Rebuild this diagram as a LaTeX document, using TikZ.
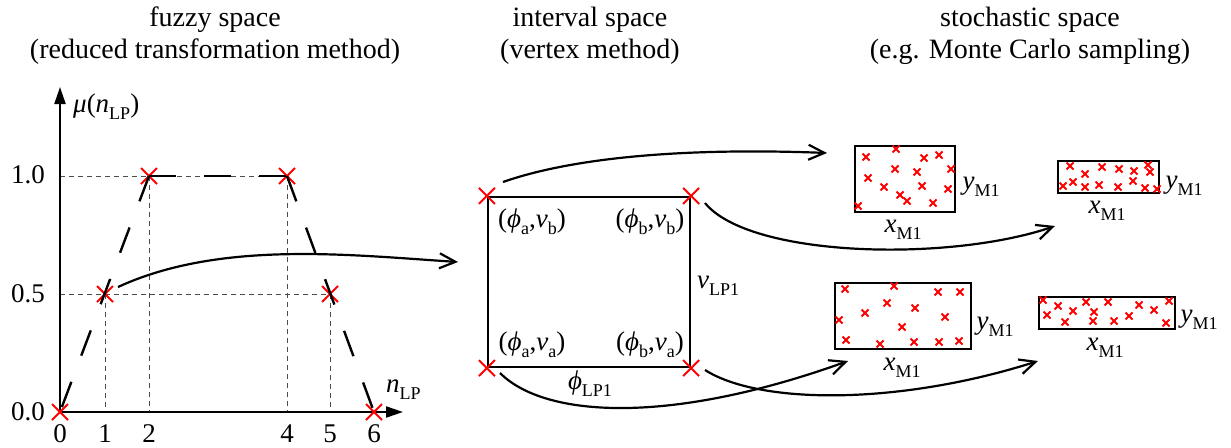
\documentclass[tikz,border=0pt]{standalone}
\usepackage{fontspec}
\setmainfont{Liberation Serif}
\usetikzlibrary{arrows.meta,shapes.misc}
\newcommand\sbs[1]{\raisebox{-0.25em}{\fontsize{18}{18}\selectfont #1}}
\newcommand\iv[1]{\textit{#1}}
\begin{document}
\begin{tikzpicture}[x=1pt,y=-1pt,
 lbl/.style={font=\fontsize{27}{30}\selectfont, inner sep=0},
 ttl/.style={font=\fontsize{28}{32}\selectfont, align=center, inner sep=0},
 axis/.style={line width=2.2pt, -{Triangle[length=17pt,width=11pt]}},
 grid/.style={black!70, line width=0.9pt, dash pattern=on 5pt off 4pt},
 trap/.style={line width=2.4pt, dash pattern=on 27pt off 28pt},
 bigx/.style={cross out, draw=red, line width=2pt, minimum size=14pt, inner sep=0},
 smx/.style={cross out, draw=red, line width=2pt, minimum size=5pt, inner sep=0},
 sbox/.style={draw, line width=2.2pt, inner sep=0},
 conn/.style={line width=2.2pt, -{Straight Barb[length=16pt,width=15pt]}},
]
\useasboundingbox (0,0) rectangle (1231,447);

% titles
\node[ttl] (t1) at (215,36) {fuzzy space\\(reduced transformation method)};
\node[ttl] (t2) at (590,36) {interval space\\(vertex method)};
\node[ttl] (t3) at (1030,36) {stochastic space\\(e.g. Monte Carlo sampling)};

% fuzzy diagram
\coordinate (O) at (60,412);
\coordinate (ytip) at (60,87);
\coordinate (xtip) at (403,412);
\coordinate (y1) at (60,176);
\coordinate (y05) at (60,294);
\coordinate (b1) at (105,412);
\coordinate (b2) at (149,412);
\coordinate (b4) at (287,412);
\coordinate (b5) at (330,412);

\draw[grid] (y1) -- (287,176);
\draw[grid] (y05) -- (330,294);
\draw[grid] (149,176) -- (b2);
\draw[grid] (287,176) -- (b4);
\draw[grid] (105,294) -- (b1);
\draw[grid] (330,294) -- (b5);

\draw[axis] (O) -- (ytip);
\draw[axis] (O) -- (xtip);

\node[bigx] (f0) at (60,412) {};
\node[bigx] (f1) at (105,294) {};
\node[bigx] (f2) at (149,176) {};
\node[bigx] (f4) at (287,176) {};
\node[bigx] (f5) at (330,294) {};
\node[bigx] (f6) at (374,412) {};

\draw[trap] (f2.center) -- (f0.center);
\draw[trap] (f2.center) -- (f4.center);
\draw[trap] (f4.center) -- (f6.center);

\node[lbl] (l10) at (28,175) {1.0};
\node[lbl] (l05) at (28,294) {0.5};
\node[lbl] (l00) at (28,412) {0.0};
\node[lbl] (n0) at (60,434) {0};
\node[lbl] (n1) at (105,434) {1};
\node[lbl] (n2) at (149,434) {2};
\node[lbl] (n4) at (287,434) {4};
\node[lbl] (n5) at (330,434) {5};
\node[lbl] (n6) at (374,434) {6};
\node[lbl, anchor=west] (mu) at (73,107) {\iv{μ}(\iv{n}\sbs{LP})};
\node[lbl, anchor=west] (nlp) at (386,390) {\iv{n}\sbs{LP}};

% interval space
\node[sbox, minimum width=202pt, minimum height=170pt] (ivr) at (589,282) {};
\node[bigx] (ca) at (ivr.north west) {};
\node[bigx] (cb) at (ivr.north east) {};
\node[bigx] (cc) at (ivr.south west) {};
\node[bigx] (cd) at (ivr.south east) {};
\node[lbl] (pab) at (532,222) {(\iv{ϕ}\sbs{a},\iv{v}\sbs{b})};
\node[lbl] (pbb) at (650,222) {(\iv{ϕ}\sbs{b},\iv{v}\sbs{b})};
\node[lbl] (paa) at (532,345) {(\iv{ϕ}\sbs{a},\iv{v}\sbs{a})};
\node[lbl] (pba) at (650,345) {(\iv{ϕ}\sbs{b},\iv{v}\sbs{a})};
\node[lbl, anchor=west] (vlp) at (697,286) {\iv{v}\sbs{LP1}};
\node[lbl] (plp) at (590,384) {\iv{ϕ}\sbs{LP1}};

% stochastic boxes
\node[sbox, minimum width=100pt, minimum height=66pt] (s1) at (905,179) {};
\node[sbox, minimum width=101pt, minimum height=32pt] (s2) at (1108.5,177) {};
\node[sbox, minimum width=136pt, minimum height=66pt] (s3) at (903,316) {};
\node[sbox, minimum width=136pt, minimum height=32pt] (s4) at (1107,313) {};

\node[lbl] (s1y) at (981,187) {\iv{y}\sbs{M1}};
\node[lbl] (s1x) at (903,230) {\iv{x}\sbs{M1}};
\node[lbl] (s2y) at (1184,186) {\iv{y}\sbs{M1}};
\node[lbl] (s2x) at (1107,211) {\iv{x}\sbs{M1}};
\node[lbl] (s3y) at (995,327) {\iv{y}\sbs{M1}};
\node[lbl] (s3x) at (902,368) {\iv{x}\sbs{M1}};
\node[lbl] (s4y) at (1199,320) {\iv{y}\sbs{M1}};
\node[lbl] (s4x) at (1105,348) {\iv{x}\sbs{M1}};

\foreach \p [count=\i] in {(866,157),(896,149),(924,158),(939,155),(868,178),(895,169),(917,172),(951,169),(884,187),(922,186),(948,189),(900,195),(907,201),(933,203),(858,206)}
  \node[smx] (pa\i) at \p {};
\foreach \p [count=\i] in {(1070,166),(1085,174),(1102,167),(1119,169),(1134,171),(1148,165),(1150,172),(1063,186),(1073,182),(1085,187),(1099,185),(1118,187),(1133,181),(1145,188),(1157,189)}
  \node[smx] (pb\i) at \p {};
\foreach \p [count=\i] in {(845,289),(894,286),(938,292),(960,292),(887,303),(915,308),(865,313),(945,317),(839,320),(902,327),(846,340),(880,344),(914,342),(939,342),(959,341)}
  \node[smx] (pc\i) at \p {};
\foreach \p [count=\i] in {(1043,300),(1058,306),(1086,302),(1108,302),(1139,305),(1169,301),(1047,315),(1073,311),(1094,312),(1129,316),(1154,310),(1065,322),(1093,321),(1114,321),(1166,323)}
  \node[smx] (pd\i) at \p {};

% connectors
\coordinate (a0s) at (118,287);
\coordinate (a0e) at (458,262);
\coordinate (a1s) at (503,182);
\coordinate (a1e) at (827,153);
\coordinate (a2s) at (705,203);
\coordinate (a2e) at (1055,226);
\coordinate (a3s) at (500,373);
\coordinate (a3e) at (848,361);
\coordinate (a4s) at (705,370);
\coordinate (a4e) at (1038,361);

\draw[conn] (a0s) .. controls (220,240) and (350,255) .. (a0e);
\draw[conn] (a1s) .. controls (580,155) and (700,148) .. (a1e);
\draw[conn] (a2s) .. controls (750,258) and (950,262) .. (a2e);
\draw[conn] (a3s) .. controls (545,418) and (670,425) .. (a3e);
\draw[conn] (a4s) .. controls (760,405) and (900,405) .. (a4e);
\end{tikzpicture}
\end{document}
